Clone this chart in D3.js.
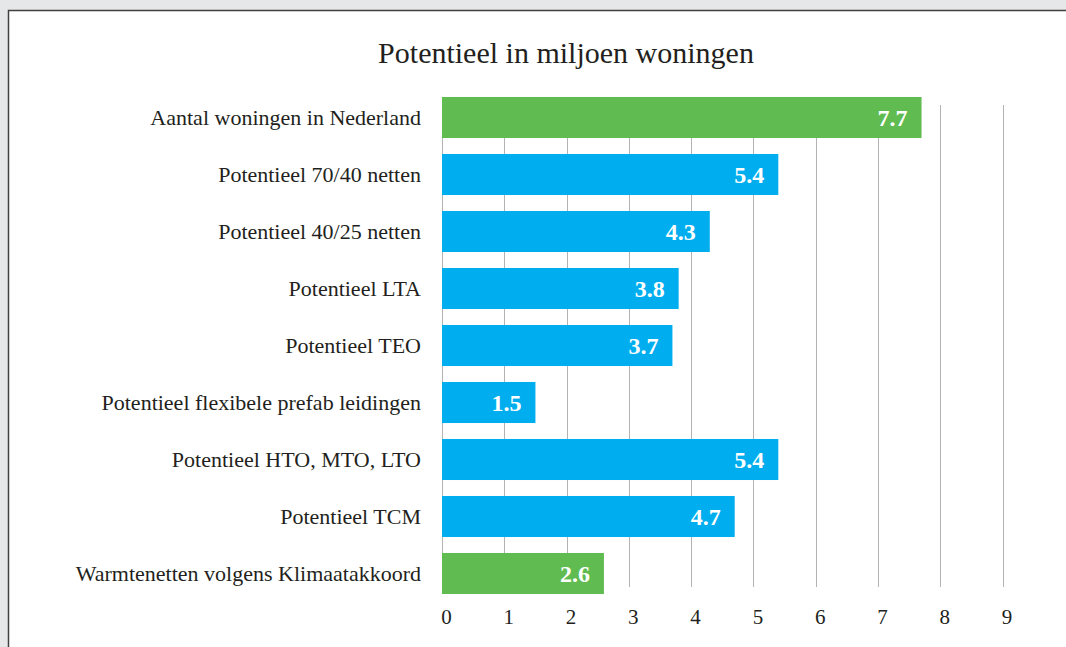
<!DOCTYPE html>
<html lang="nl">
<head>
    <meta charset="UTF-8">
    <title>Potentieel in miljoen woningen</title>
    <script src="https://d3js.org/d3.v7.min.js"></script>
    <style>
        html, body { margin: 0; padding: 0; background: #e6e7e8; }
        svg { display: block; }
        text { font-family: "Liberation Serif", "DejaVu Serif", serif; fill: #231f20; }
    </style>
</head>
<body>
    <script>
        // data
        const categories = [
            "Aantal woningen in Nederland",
            "Potentieel 70/40 netten",
            "Potentieel 40/25 netten",
            "Potentieel LTA",
            "Potentieel TEO",
            "Potentieel flexibele prefab leidingen",
            "Potentieel HTO, MTO, LTO",
            "Potentieel TCM",
            "Warmtenetten volgens Klimaatakkoord"
        ];
        const values = [7.7, 5.4, 4.3, 3.8, 3.7, 1.5, 5.4, 4.7, 2.6];
        const groups = ["total", "pot", "pot", "pot", "pot", "pot", "pot", "pot", "total"];
        const ticks = [0, 1, 2, 3, 4, 5, 6, 7, 8, 9];
        const title = "Potentieel in miljoen woningen";

        const W = 1066, H = 647;
        const colors = { total: "#60bb50", pot: "#00aeef" };

        const svg = d3.select("body").append("svg")
            .attr("width", W)
            .attr("height", H);

        // panel
        svg.append("rect")
            .attr("x", 8.5).attr("y", 10.5)
            .attr("width", W + 10).attr("height", H + 10)
            .attr("fill", "#fff")
            .attr("stroke", "#404041")
            .attr("stroke-width", 1.5);

        svg.append("text")
            .attr("x", 566).attr("y", 63)
            .attr("text-anchor", "middle")
            .style("font-size", "30px")
            .text(title);

        const x = d3.scaleLinear().domain([0, 9]).range([442, 1002.5]);
        const y = d3.scaleBand().domain(categories).range([89, 602]).paddingInner(0.28).paddingOuter(0.14);

        // grid
        svg.append("g").selectAll("line")
            .data(ticks)
            .join("line")
            .attr("x1", d => Math.round(x(d)) + 0.5)
            .attr("x2", d => Math.round(x(d)) + 0.5)
            .attr("y1", 105)
            .attr("y2", 587)
            .attr("stroke", "#b3b3b3")
            .attr("stroke-width", 1);

        // bars
        svg.append("g").selectAll("rect")
            .data(values)
            .join("rect")
            .attr("x", x(0))
            .attr("y", (d, i) => y(categories[i]))
            .attr("width", d => x(d) - x(0))
            .attr("height", y.bandwidth())
            .attr("fill", (d, i) => colors[groups[i]]);

        // value labels
        svg.append("g").selectAll("text")
            .data(values)
            .join("text")
            .attr("x", d => x(d) - 14)
            .attr("y", (d, i) => y(categories[i]) + y.bandwidth() / 2)
            .attr("dy", "0.35em")
            .attr("text-anchor", "end")
            .style("font-size", "24px")
            .style("font-weight", "bold")
            .style("fill", "#fff")
            .text(d => d.toFixed(1));

        // category labels
        svg.append("g").selectAll("text")
            .data(categories)
            .join("text")
            .attr("x", 421)
            .attr("y", d => y(d) + y.bandwidth() / 2)
            .attr("dy", "0.35em")
            .attr("text-anchor", "end")
            .style("font-size", "22px")
            .text(d => d);

        // x axis labels
        const xAxis = d3.axisBottom(x).tickValues(ticks).tickSize(0).tickPadding(0);
        const gx = svg.append("g")
            .attr("transform", "translate(4,609)")
            .call(xAxis);
        gx.select(".domain").remove();
        gx.selectAll("text")
            .style("font-size", "21px")
            .style("font-family", "'Liberation Serif', serif")
            .attr("fill", "#231f20");
    </script>
</body>
</html>
